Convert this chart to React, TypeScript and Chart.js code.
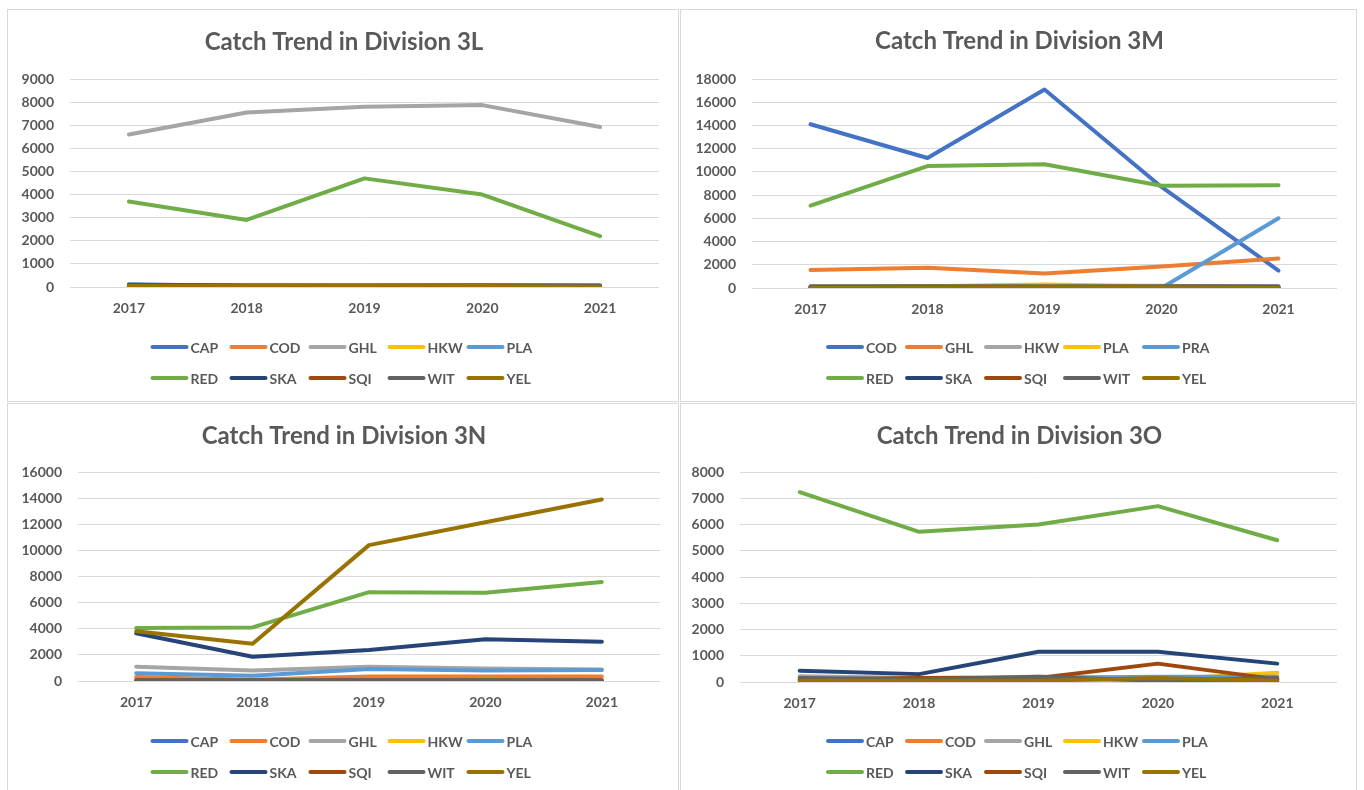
import React, { useEffect, useRef } from "react";
import { Chart, registerables } from "chart.js";

Chart.register(...registerables);

// ---------- DATA ----------
const years = ["2017", "2018", "2019", "2020", "2021"];
const speciesStd = ["CAP", "COD", "GHL", "HKW", "PLA", "RED", "SKA", "SQI", "WIT", "YEL"];
const species3M = ["COD", "GHL", "HKW", "PLA", "PRA", "RED", "SKA", "SQI", "WIT", "YEL"];
const palette = ["#4472C4", "#ED7D31", "#A5A5A5", "#FFC000", "#5B9BD5", "#70AD47", "#264478", "#9E480E", "#636363", "#997300"];

// Division 3L
const d3L_CAP = [120, 40, 20, 10, 0];
const d3L_COD = [50, 40, 40, 60, 60];
const d3L_GHL = [6600, 7550, 7800, 7870, 6920];
const d3L_HKW = [0, 0, 0, 0, 0];
const d3L_PLA = [60, 50, 60, 90, 50];
const d3L_RED = [3700, 2900, 4700, 4000, 2200];
const d3L_SKA = [90, 60, 50, 50, 40];
const d3L_SQI = [10, 10, 10, 10, 10];
const d3L_WIT = [60, 60, 60, 60, 60];
const d3L_YEL = [40, 40, 40, 40, 0];

// Division 3M
const d3M_COD = [14100, 11200, 17100, 8700, 1500];
const d3M_GHL = [1550, 1750, 1250, 1850, 2550];
const d3M_HKW = [100, 150, 150, 200, 100];
const d3M_PLA = [50, 150, 300, 150, 50];
const d3M_PRA = [0, 0, 0, 0, 6000];
const d3M_RED = [7100, 10500, 10650, 8800, 8850];
const d3M_SKA = [50, 50, 50, 0, 0];
const d3M_SQI = [20, 20, 20, 20, 20];
const d3M_WIT = [150, 150, 150, 150, 150];
const d3M_YEL = [0, 0, 50, 50, 0];

// Division 3N
const d3N_CAP = [0, 0, 0, 0, 0];
const d3N_COD = [300, 100, 350, 350, 350];
const d3N_GHL = [1100, 800, 1100, 950, 880];
const d3N_HKW = [0, 0, 0, 0, 0];
const d3N_PLA = [600, 400, 920, 800, 850];
const d3N_RED = [4050, 4100, 6800, 6750, 7580];
const d3N_SKA = [3650, 1850, 2380, 3200, 3000];
const d3N_SQI = [50, 50, 50, 50, 50];
const d3N_WIT = [50, 50, 50, 50, 50];
const d3N_YEL = [3800, 2850, 10400, 12150, 13900];

// Division 3O
const d3O_CAP = [0, 0, 0, 0, 0];
const d3O_COD = [100, 150, 100, 150, 100];
const d3O_GHL = [220, 150, 200, 150, 150];
const d3O_HKW = [50, 50, 50, 100, 350];
const d3O_PLA = [150, 100, 150, 200, 200];
const d3O_RED = [7230, 5720, 6000, 6700, 5400];
const d3O_SKA = [430, 300, 1150, 1150, 700];
const d3O_SQI = [100, 150, 150, 700, 100];
const d3O_WIT = [150, 100, 200, 50, 150];
const d3O_YEL = [50, 50, 50, 150, 50];

const series3L = [d3L_CAP, d3L_COD, d3L_GHL, d3L_HKW, d3L_PLA, d3L_RED, d3L_SKA, d3L_SQI, d3L_WIT, d3L_YEL];
const series3M = [d3M_COD, d3M_GHL, d3M_HKW, d3M_PLA, d3M_PRA, d3M_RED, d3M_SKA, d3M_SQI, d3M_WIT, d3M_YEL];
const series3N = [d3N_CAP, d3N_COD, d3N_GHL, d3N_HKW, d3N_PLA, d3N_RED, d3N_SKA, d3N_SQI, d3N_WIT, d3N_YEL];
const series3O = [d3O_CAP, d3O_COD, d3O_GHL, d3O_HKW, d3O_PLA, d3O_RED, d3O_SKA, d3O_SQI, d3O_WIT, d3O_YEL];

// ---------- STYLE ----------
const FONT = "Lato, 'Open Sans', sans-serif";
const TEXT = "#595959";
const GRID = "#d9d9d9";

// Draws the centred title and the two-row Excel-style legend.
const excelDecor = {
  id: "excelDecor",
  afterDraw(chart: any, _args: any, opts: any) {
    const ctx = chart.ctx;
    ctx.save();
    ctx.fillStyle = TEXT;
    ctx.textAlign = "center";
    ctx.textBaseline = "middle";
    ctx.font = `bold 24px ${FONT}`;
    ctx.fillText(opts.title, chart.width / 2 + opts.titleShift, opts.titleY);

    const ds = chart.data.datasets;
    const cols = 5;
    const colW = opts.colW;
    const lineLen = opts.lineLen;
    const startX = chart.width / 2 - (cols * colW) / 2 + opts.shiftX;
    ctx.font = `bold 14px ${FONT}`;
    ctx.textAlign = "left";
    ds.forEach((d: any, i: number) => {
      const r = Math.floor(i / cols);
      const c = i % cols;
      const x = startX + c * colW;
      const y = opts.rowY[r];
      ctx.strokeStyle = d.borderColor;
      ctx.lineWidth = 4;
      ctx.lineCap = "round";
      ctx.beginPath();
      ctx.moveTo(x + 2, y);
      ctx.lineTo(x + lineLen - 2, y);
      ctx.stroke();
      ctx.fillStyle = TEXT;
      ctx.fillText(d.label, x + lineLen + 2, y + 1);
    });
    ctx.restore();
  },
};

type PanelProps = {
  title: string;
  labels: string[];
  series: number[][];
  yMax: number;
  yStep: number;
  yWidth: number;
  padRight: number;
  areaTop: number;
  areaBottom: number;
  titleY: number;
  width: number;
  height: number;
};

function Panel(p: PanelProps) {
  const ref = useRef<HTMLCanvasElement | null>(null);
  useEffect(() => {
    let chart: Chart | null = null;
    let cancelled = false;
    const xAxisH = 40;
    const build = () => {
      if (cancelled || !ref.current) return;
      chart = new Chart(ref.current, {
        type: "line",
        data: {
          labels: years,
          datasets: p.labels.map((name, i) => ({
            label: name,
            data: p.series[i],
            borderColor: palette[i],
            backgroundColor: palette[i],
            borderWidth: 4,
            pointRadius: 0,
            tension: 0,
            borderJoinStyle: "round",
            borderCapStyle: "round",
            order: 20 - i,
          })),
        },
        options: {
          responsive: false,
          animation: false,
          layout: {
            padding: { left: 0, right: p.padRight, top: p.areaTop, bottom: p.height - p.areaBottom - xAxisH },
          },
          plugins: {
            legend: { display: false },
            tooltip: { enabled: false },
            title: { display: false },
            excelDecor: {
              title: p.title,
              titleY: p.titleY,
              titleShift: 1,
              colW: 79,
              lineLen: 38,
              shiftX: 5,
              rowY: [337, 368],
            },
          } as any,
          scales: {
            x: {
              offset: true,
              grid: { display: false, drawTicks: false },
              border: { display: false },
              ticks: { color: TEXT, font: { family: FONT, size: 14, weight: "bold" }, padding: 13, maxRotation: 0 },
              afterFit: (s: any) => { s.height = xAxisH; },
            },
            y: {
              min: 0,
              max: p.yMax,
              grid: { color: GRID, lineWidth: 1, drawTicks: false },
              border: { display: false },
              ticks: {
                stepSize: p.yStep,
                color: TEXT,
                font: { family: FONT, size: 14, weight: "bold" },
                padding: 16,
                callback: (v: any) => String(v),
              },
              afterFit: (s: any) => { s.width = p.yWidth; },
            },
          },
        },
        plugins: [excelDecor as any],
      });
    };
    const f = (document as any).fonts;
    if (f && f.load) {
      Promise.all([f.load(`bold 14px Lato`), f.load(`bold 24px Lato`)]).then(build, build);
    } else build();
    return () => {
      cancelled = true;
      if (chart) chart.destroy();
    };
  }, []);
  return <canvas ref={ref} width={p.width} height={p.height} style={{ display: "block" }} />;
}

const boxStyle = (left: number, top: number, width: number, height: number): React.CSSProperties => ({
  position: "absolute",
  left,
  top,
  width,
  height,
  border: `1px solid ${GRID}`,
  boxSizing: "border-box",
  background: "#fff",
  overflow: "hidden",
});

export default function App() {
  return (
    <div style={{ position: "fixed", left: 0, top: 0, width: 1364, height: 790, background: "#fff", overflow: "hidden" }}>
      <div style={boxStyle(7, 9, 672, 393)}>
        <Panel title="Catch Trend in Division 3L" labels={speciesStd} series={series3L} yMax={9000} yStep={1000}
          yWidth={62} padRight={19} areaTop={69} areaBottom={277} titleY={32} width={670} height={391} />
      </div>
      <div style={boxStyle(680, 9, 677, 393)}>
        <Panel title="Catch Trend in Division 3M" labels={species3M} series={series3M} yMax={18000} yStep={2000}
          yWidth={71} padRight={19} areaTop={69} areaBottom={278} titleY={31} width={675} height={391} />
      </div>
      <div style={boxStyle(7, 403, 672, 400)}>
        <Panel title="Catch Trend in Division 3N" labels={speciesStd} series={series3N} yMax={16000} yStep={2000}
          yWidth={70} padRight={18} areaTop={68} areaBottom={277} titleY={32} width={670} height={391} />
      </div>
      <div style={boxStyle(680, 403, 677, 400)}>
        <Panel title="Catch Trend in Division 3O" labels={speciesStd} series={series3O} yMax={8000} yStep={1000}
          yWidth={59} padRight={19} areaTop={68} areaBottom={278} titleY={32} width={675} height={391} />
      </div>
    </div>
  );
}
